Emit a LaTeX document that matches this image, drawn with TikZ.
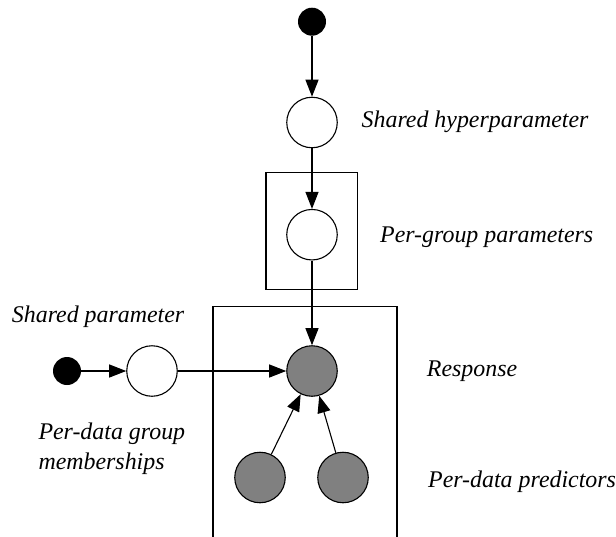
\documentclass[tikz,border=0pt]{standalone}
\usepackage{fontspec}
\setmainfont{Liberation Serif}
\usetikzlibrary{arrows.meta}
\begin{document}
\begin{tikzpicture}[x=1pt,y=-1pt,
  lbl/.style={font=\fontsize{23.9}{30}\selectfont\itshape, anchor=base west, inner sep=0pt, align=left},
  obs/.style={circle, draw, fill=black!50, minimum size=50.5pt, inner sep=0pt, line width=1.1pt},
  lat/.style={circle, draw, fill=white, minimum size=50.5pt, inner sep=0pt, line width=1.1pt},
  fixd/.style={circle, fill=black, minimum size=28pt, inner sep=0pt},
  plate/.style={draw, line width=1.1pt},
  edge/.style={-{Triangle[length=17pt,width=13pt]}, line width=1.1pt}]
\path[use as bounding box] (0,0) rectangle (616,536);
\clip (0,0) rectangle (616,536);
% plates
\draw[plate] (266,172.3) rectangle (357.3,289.3);
\draw[plate] (213,545) -- (213,306.5) -- (397,306.5) -- (397,545);
% nodes
\node[fixd] (d1) at (312,21.7) {};
\node[lat] (hyp) at (312,122.5) {};
\node[lat] (grp) at (312,234.7) {};
\node[obs] (resp) at (312,371) {};
\node[fixd] (d2) at (67,371) {};
\node[lat] (sh) at (152,371) {};
\node[obs] (m) at (260,477.5) {};
\node[obs] (p) at (343,477.5) {};
% labels
\node[lbl] (l1) at (361.5,127.7) {Shared hyperparameter};
\node[lbl] (l2) at (380,242.7) {Per-group parameters};
\node[lbl] (l3) at (11.7,322.7) {Shared parameter};
\node[lbl] (l4) at (426.7,376.7) {Response};
\node[lbl] (l5) at (428,487) {Per-data predictors};
\node[lbl] (l6) at (38.3,469) {Per-data group\\memberships};
% edges
\draw[edge] (d1) -- (hyp);
\draw[edge] (hyp) -- (grp);
\draw[edge] (grp) -- (resp);
\draw[edge] (d2) -- (sh);
\draw[edge] (sh) -- (resp);
\draw[edge] (m) -- (resp);
\draw[edge] (p) -- (resp);
\end{tikzpicture}
\end{document}
